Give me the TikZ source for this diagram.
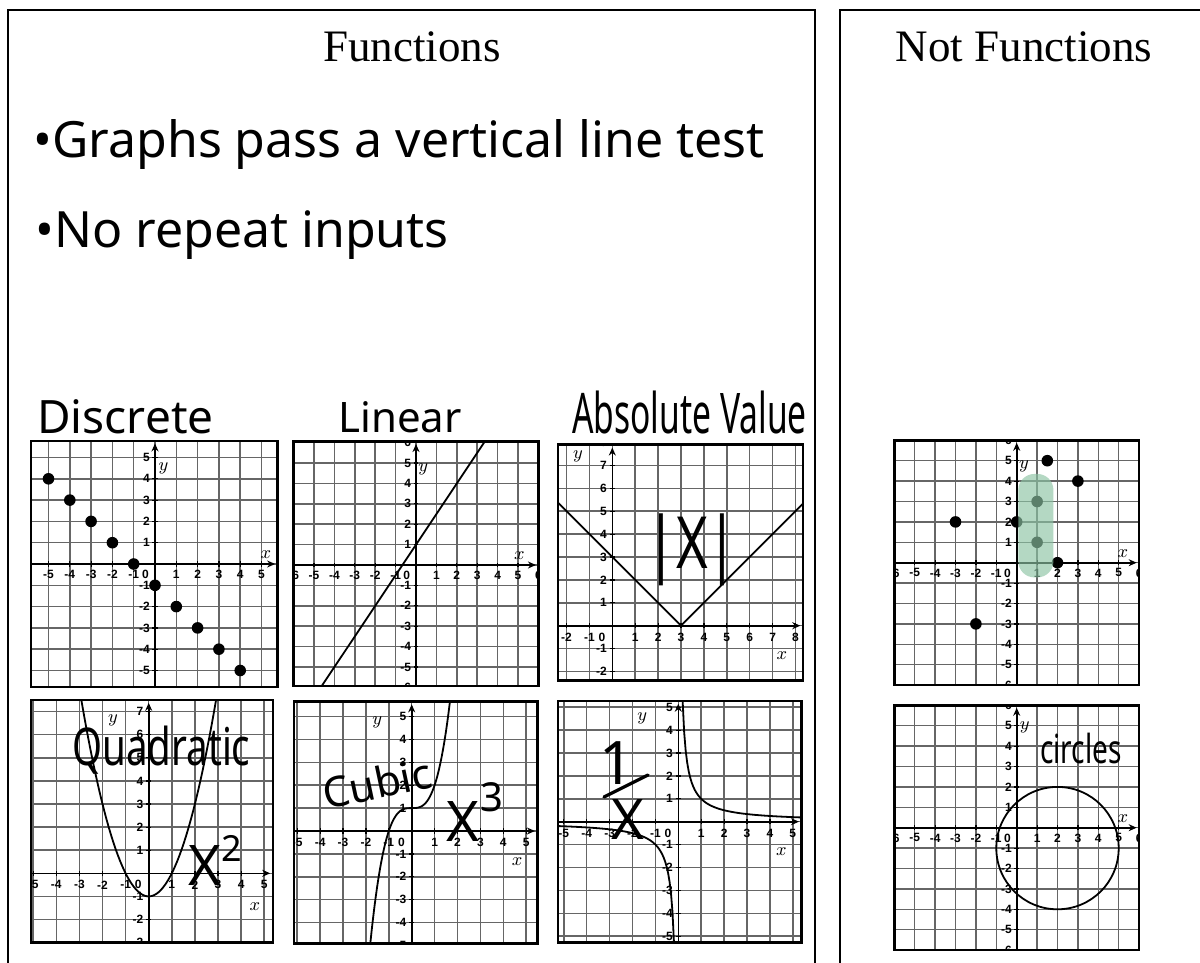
\documentclass[tikz,border=0pt]{standalone}
\usepackage{fontspec}
\usetikzlibrary{arrows.meta}
\newfontfamily\handfont{Noto Sans}
\newfontfamily\tickfont{Liberation Sans}
\newfontfamily\titlefont{Liberation Serif}
\definecolor{Grid}{HTML}{666666}
\definecolor{Marker}{HTML}{8CC4A4}
\tikzset{
  panel/.style={draw=black, line width=1pt},
  title/.style={inner sep=0pt, font=\titlefont\fontsize{22.5}{26}\selectfont},
  hand/.style={inner sep=0pt, font=\handfont\fontsize{#1}{#1}\selectfont},
  gridline/.style={draw=Grid, line width=0.75pt},
  axisline/.style={draw=black, line width=0.8pt, -{Stealth[length=4pt,width=3.5pt]}},
  tickline/.style={draw=black, line width=0.6pt},
  ticklabel/.style={inner sep=0pt, font=\tickfont\bfseries\fontsize{6}{6}\selectfont},
  axisname/.style={inner sep=0pt, font=\fontsize{9}{9}\selectfont},
  frame/.style={draw=black, line width=1.3pt},
  curve/.style={draw=black, line width=0.9pt},
  dot/.style={circle, fill=black, inner sep=0pt, minimum size=5.8pt},
  stroke/.style={draw=black, line width=1.6pt, line cap=round}
}
% graph paper: name, x box, y box, x lines, y lines
\newcommand{\plotgrid}[9]{%
  \begin{scope}
    \clip (#2,#4) rectangle (#3,#5);
    \foreach \gx in {#6,...,#7} \draw[gridline] (\gx,#4) -- (\gx,#5);
    \foreach \gy in {#8,...,#9} \draw[gridline] (#2,\gy) -- (#3,\gy);
    \draw[axisline] (#2,0) -- (#3-0.12,0);
    \draw[axisline] (0,#4) -- (0,#5-0.12);
    \foreach \gx in {#6,...,#7}{
      \draw[tickline] (\gx,-0.12) -- (\gx,0.12);
      \ifnum\gx=0 \else \node[ticklabel] (#1-x\gx) at (\gx,-0.5) {\gx}; \fi}
    \foreach \gy in {#8,...,#9}{
      \draw[tickline] (-0.12,\gy) -- (0.12,\gy);
      \ifnum\gy=0 \else \node[ticklabel,anchor=east] (#1-y\gy) at (-0.22,\gy) {\gy}; \fi}
    \node[ticklabel] (#1-o) at (-0.45,-0.5) {0};
  \end{scope}
  \draw[frame] (#2,#4) rectangle (#3,#5);
}

\begin{document}
\begin{tikzpicture}[x=0.5pt,y=-0.5pt]
  \useasboundingbox (0,0) rectangle (1200,963);
  \fill[white] (0,0) rectangle (1200,963);

  % two panels
  \draw[panel] (8,975) -- (8,10) -- (815,10) -- (815,975);
  \draw[panel] (840,975) -- (840,10) -- (1210,10);
  \node[title] (fun) at (412,47) {Functions};
  \node[title] (notfun) at (1024,47) {Not Functions};

  \node[hand=25,anchor=base west] (rule1) at (33,158) {\textbullet Graphs pass a vertical line test};
  \node[hand=25,anchor=base west] (rule2) at (35,247) {\textbullet No repeat inputs};

  \node[hand=23,anchor=base west] (lab-dis) at (37,433) {Discrete};
  \node[hand=21,anchor=base west] (lab-lin) at (338,432) {Linear};
  \node[hand=28,anchor=base west,xscale=0.6] (lab-abs) at (572,433) {Absolute Value};

  % discrete
  \begin{scope}[shift={(155,564)}, x=10.65pt, y=10.65pt]
    \plotgrid{dis}{-5.82}{5.76}{-5.78}{5.78}{-6}{6}{-6}{6}
    \node[axisname] (dis-xn) at (5.2,0.45) {$x$};
    \node[axisname] (dis-yn) at (0.4,4.5) {$y$};
    \foreach \px in {-5,...,4} \node[dot] (dis-p\px) at (\px,-1-\px) {};
  \end{scope}

  % linear
  \begin{scope}[shift={(416,565)}, x=10.2pt, y=10.2pt]
    \plotgrid{lin}{-6}{6}{-5.93}{6.05}{-6}{6}{-6}{6}
    \node[axisname] (lin-xn) at (5.07,0.44) {$x$};
    \node[axisname] (lin-yn) at (0.36,4.67) {$y$};
    \draw[curve] (-4.62,-5.93) -- (3.37,6.05);
  \end{scope}

  % absolute value
  \begin{scope}[shift={(612.3,625.7)}, x=11.45pt, y=11.45pt]
    \plotgrid{abs}{-2.38}{8.33}{-2.4}{7.9}{-3}{9}{-3}{8}
    \node[axisname] (abs-xn) at (7.4,-1.3) {$x$};
    \node[axisname] (abs-yn) at (-1.5,7.4) {$y$};
    \draw[curve] (-2.38,5.38) -- (3,0) -- (8.33,5.33);
  \end{scope}
  \node[hand=36,xscale=0.75] (lab-absx) at (692,550) {|X|};

  % quadratic
  \begin{scope}[shift={(148.7,873.3)}, x=11.55pt, y=11.55pt]
    \plotgrid{qua}{-5.1}{5.38}{-3.0}{7.5}{-6}{6}{-3}{8}
    \node[axisname] (qua-xn) at (4.6,-1.45) {$x$};
    \node[axisname] (qua-yn) at (-1.55,6.6) {$y$};
    \draw[curve] plot[domain=-2.915:2.915, samples=60] (\x,{\x*\x-1});
  \end{scope}
  \node[hand=26,anchor=base west,xscale=0.74] (lab-qua) at (72,765) {Quadratic};
  \node[hand=28] (qua-X) at (205,866) {X};
  \node[hand=18] (qua-2) at (232,848) {2};

  % cubic
  \begin{scope}[shift={(411.7,831)}, x=11.45pt, y=11.45pt]
    \plotgrid{cub}{-5.14}{5.5}{-4.9}{5.65}{-6}{6}{-5}{6}
    \node[axisname] (cub-xn) at (4.6,-1.35) {$x$};
    \node[axisname] (cub-yn) at (-1.5,4.75) {$y$};
    \draw[curve] plot[domain=-1.806:1.669, samples=60] (\x,{\x*\x*\x+1});
  \end{scope}
  \node[hand=21,rotate=12] (lab-cub) at (377,783) {Cubic};
  \node[hand=28] (cub-X) at (463,822) {X};
  \node[hand=20] (cub-3) at (492,797) {3};

  % reciprocal
  \begin{scope}[shift={(678.3,821.7)}, x=11.45pt, y=11.45pt]
    \plotgrid{rec}{-5.25}{5.39}{-5.27}{5.27}{-6}{6}{-6}{6}
    \node[axisname] (rec-xn) at (4.5,-1.3) {$x$};
    \node[axisname] (rec-yn) at (-1.57,4.5) {$y$};
    \draw[curve] plot[domain=0.19:5.39, samples=80] (\x,{1/\x});
    \draw[curve] plot[domain=-5.25:-0.19, samples=80] (\x,{1/\x});
  \end{scope}
  \node[hand=30] (rec-1) at (617,763) {1};
  \coordinate (bar-a) at (604,797);
  \coordinate (bar-b) at (648,775);
  \draw[stroke] (bar-a) -- (bar-b);
  \node[hand=28] (rec-X) at (628,820) {X};

  % not functions: points
  \begin{scope}[shift={(1016.7,562.7)}, x=10.2pt, y=10.2pt]
    \plotgrid{rel}{-6}{6}{-6}{6}{-6}{6}{-6}{6}
    \node[axisname] (rel-xn) at (5.2,0.43) {$x$};
    \node[axisname] (rel-yn) at (0.36,4.7) {$y$};
    \foreach \px/\py [count=\k] in {-3/2,-2/-3,0/2,1/3,1/1,1.5/5,2/0,3/4}
      \node[dot] (rel-p\k) at (\px,\py) {};
    \fill[Marker, opacity=0.65, rounded corners=8pt] (0.08,-0.72) rectangle (1.8,4.35);
  \end{scope}

  % not functions: circle
  \begin{scope}[shift={(1016.7,827.7)}, x=10.2pt, y=10.2pt]
    \plotgrid{cir}{-6}{6}{-6}{6}{-6}{6}{-6}{6}
    \node[axisname] (cir-xn) at (5.2,0.46) {$x$};
    \node[axisname] (cir-yn) at (0.4,4.9) {$y$};
    \draw[curve] (2,-1) circle[radius=3];
  \end{scope}
  \node[hand=20,xscale=0.7] (lab-cir) at (1081,748) {circles};
\end{tikzpicture}
\end{document}
